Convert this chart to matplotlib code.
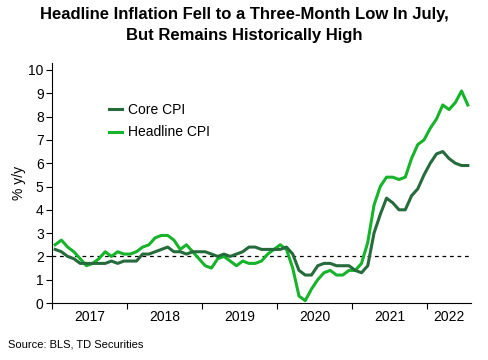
import matplotlib
matplotlib.use('Agg')
import matplotlib.pyplot as plt
import numpy as np

plt.rcParams['font.family'] = ['Liberation Sans', 'DejaVu Sans']

# monthly y/y % change, Jan 2017 - Jul 2022
headline_cpi = [2.5, 2.7, 2.4, 2.2, 1.9, 1.6, 1.7, 1.9, 2.2, 2.0, 2.2, 2.1,
                2.1, 2.2, 2.4, 2.5, 2.8, 2.9, 2.9, 2.7, 2.3, 2.5, 2.2, 1.9,
                1.6, 1.5, 1.9, 2.0, 1.8, 1.6, 1.8, 1.7, 1.7, 1.8, 2.1, 2.3,
                2.5, 2.3, 1.5, 0.3, 0.1, 0.6, 1.0, 1.3, 1.4, 1.2, 1.2, 1.4,
                1.4, 1.7, 2.6, 4.2, 5.0, 5.4, 5.4, 5.3, 5.4, 6.2, 6.8, 7.0,
                7.5, 7.9, 8.5, 8.3, 8.6, 9.1, 8.5]
core_cpi = [2.3, 2.2, 2.0, 1.9, 1.7, 1.7, 1.7, 1.7, 1.7, 1.8, 1.7, 1.8,
            1.8, 1.8, 2.1, 2.1, 2.2, 2.3, 2.4, 2.2, 2.2, 2.1, 2.2, 2.2,
            2.2, 2.1, 2.0, 2.1, 2.0, 2.1, 2.2, 2.4, 2.4, 2.3, 2.3, 2.3,
            2.3, 2.4, 2.1, 1.4, 1.2, 1.2, 1.6, 1.7, 1.7, 1.6, 1.6, 1.6,
            1.4, 1.3, 1.6, 3.0, 3.8, 4.5, 4.3, 4.0, 4.0, 4.6, 4.9, 5.5,
            6.0, 6.4, 6.5, 6.2, 6.0, 5.9, 5.9]
years = ['2017', '2018', '2019', '2020', '2021', '2022']
target = 2.0

months = np.arange(len(core_cpi))

fig = plt.figure(figsize=(4.88, 3.6), dpi=100)
ax = fig.add_axes([0.1066, 0.1583, 0.8584, 0.6667])

ax.axhline(target, color='black', lw=0.9, ls=(0, (3, 3)), zorder=1)
ax.plot(months, core_cpi, color='#266b3c', lw=2.2, label='Core CPI', zorder=3)
ax.plot(months, headline_cpi, color='#17b32b', lw=2.2, label='Headline CPI', zorder=2)

ax.set_xlim(-0.5, len(core_cpi) - 0.5)
ax.set_ylim(0, 10.3)
ax.set_yticks(range(0, 11))

# year boundaries as ticks, labels in middle of each year
ax.set_xticks(np.arange(len(years)) * 12 - 0.5)
ax.set_xticklabels([])
mids = [min(i * 12 + 5.5, (i * 12 - 0.5 + len(core_cpi) - 0.5) / 2) for i in range(len(years))]
ax.set_xticks(mids, minor=True)
ax.set_xticklabels(years, minor=True)
ax.tick_params(axis='x', which='minor', length=0, pad=5, labelsize=10)
ax.tick_params(axis='x', which='major', length=4, direction='out')
ax.tick_params(axis='y', length=4, labelsize=10, pad=2)

for s in ['top', 'right']:
    ax.spines[s].set_visible(False)

ax.set_ylabel('% y/y', fontsize=10, labelpad=2)

ax.legend(loc='upper left', bbox_to_anchor=(0.105, 0.885), frameon=False,
          fontsize=10, handlelength=0.95, handletextpad=0.45, labelspacing=0.6)

fig.suptitle('Headline Inflation Fell to a Three-Month Low In July,\nBut Remains Historically High',
             fontsize=12, fontweight='bold', y=0.98, x=0.5, linespacing=1.5)
fig.text(0.016, 0.035, 'Source: BLS, TD Securities', fontsize=8)

fig.savefig('out.png', dpi=100)
